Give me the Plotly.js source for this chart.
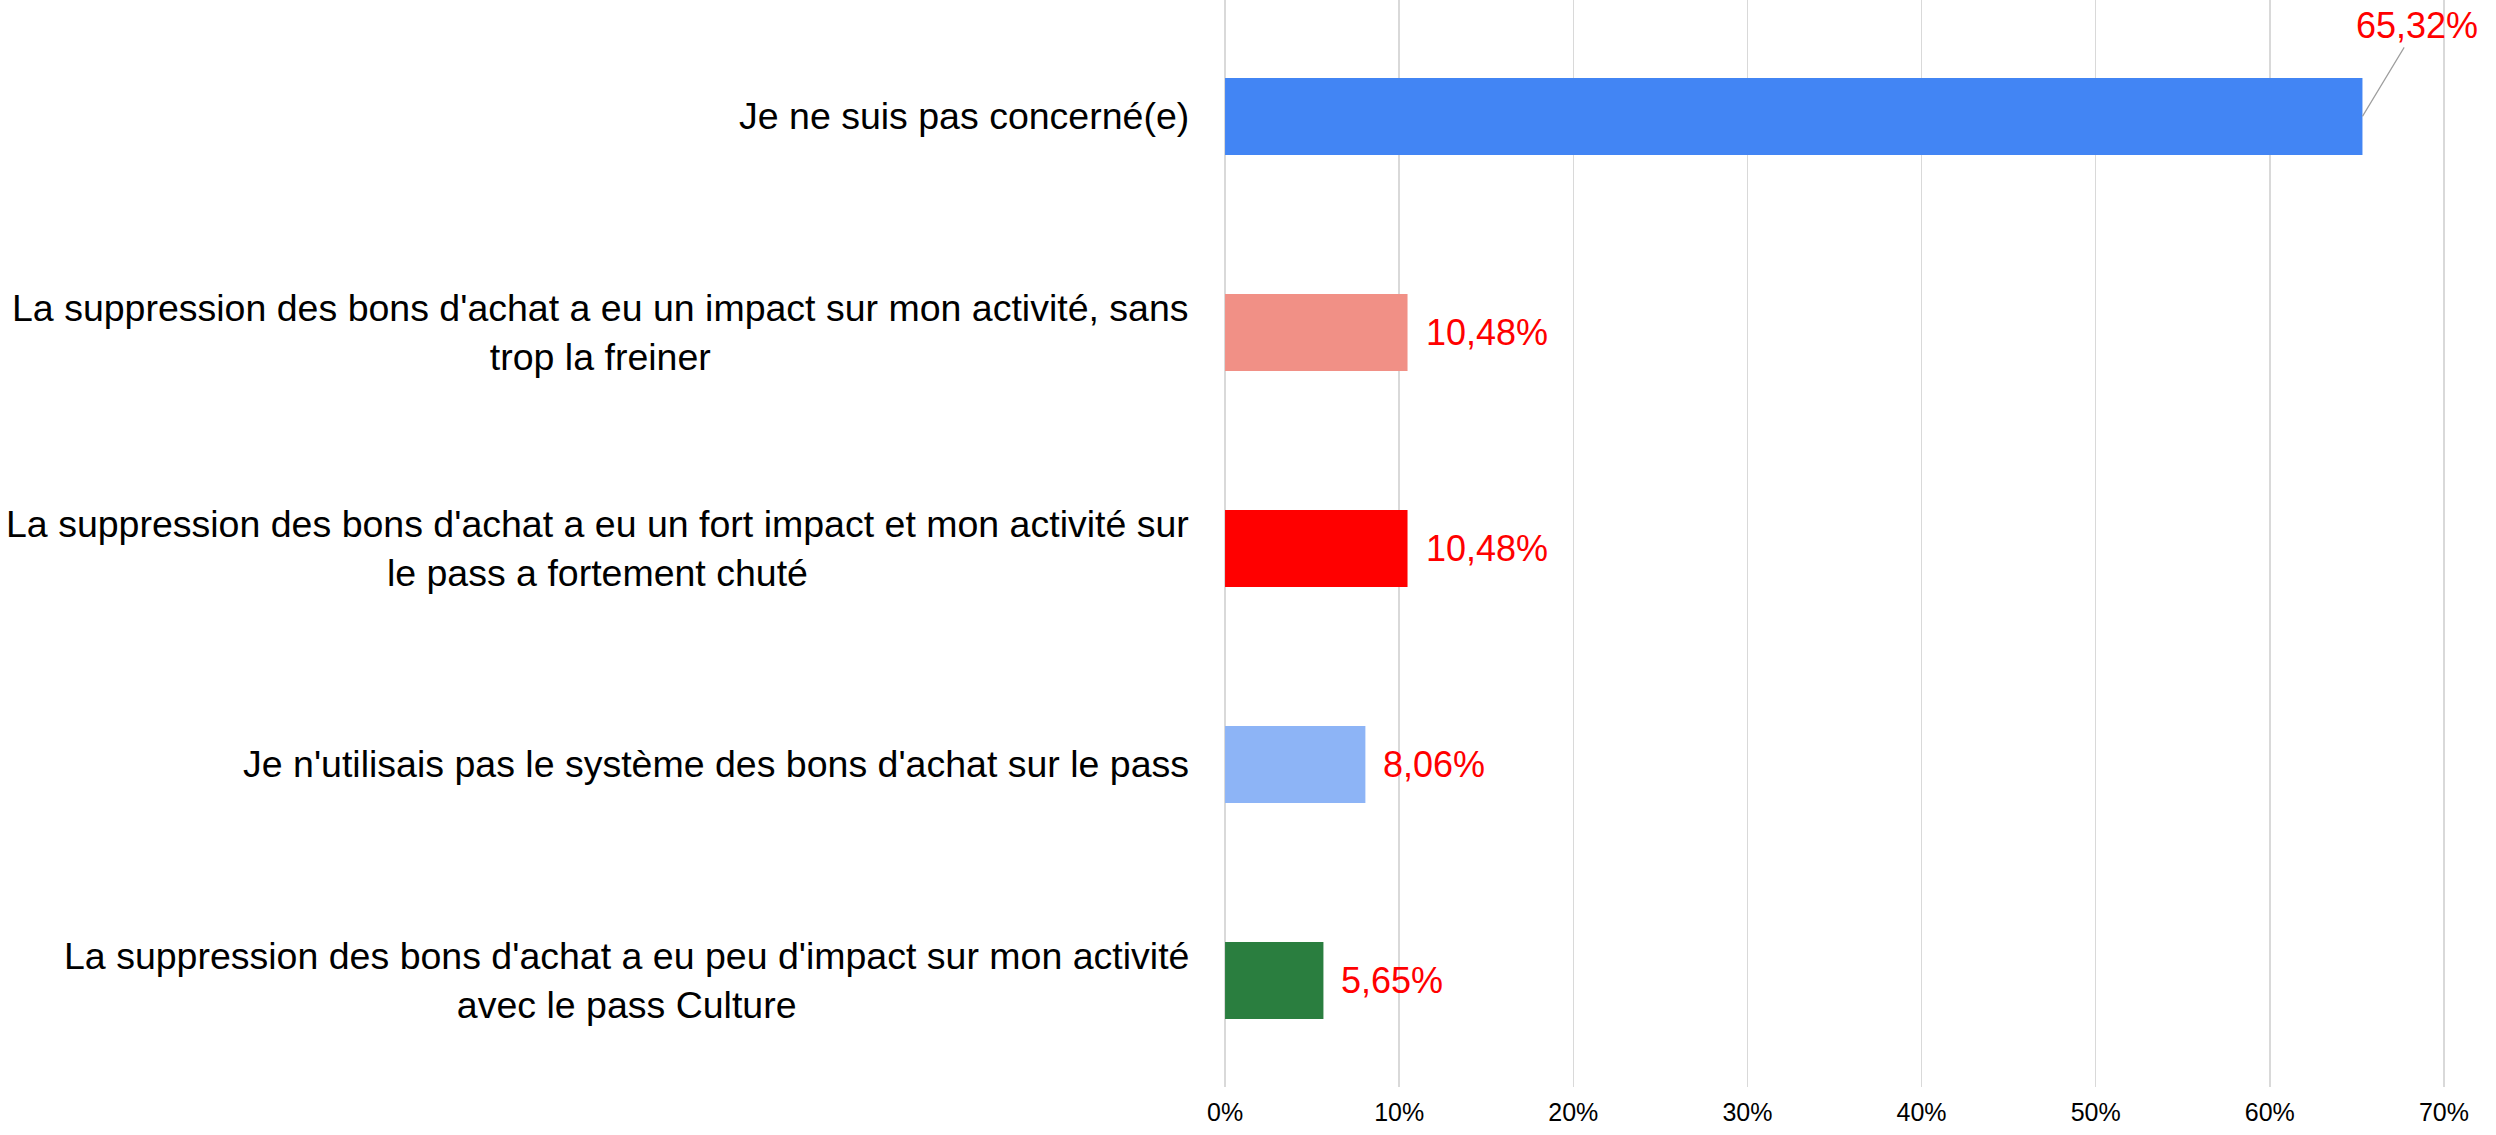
<!DOCTYPE html>
<html>
<head>
<meta charset="utf-8">
<script src="https://cdn.plot.ly/plotly-3.0.1.min.js"></script>
<style>html,body{margin:0;padding:0;background:#fff;}#chart{width:2496px;height:1135px;}</style>
</head>
<body>
<div id="chart"></div>
<script>
// Data
const categories = [
  "Je ne suis pas concerné(e)",
  "La suppression des bons d'achat a eu un impact sur mon activité, sans<br>trop la freiner",
  "La suppression des bons d'achat a eu un fort impact et mon activité sur<br>le pass a fortement chuté",
  "Je n'utilisais pas le système des bons d'achat sur le pass",
  "La suppression des bons d'achat a eu peu d'impact sur mon activité<br>avec le pass Culture"
];
const values = [65.32, 10.48, 10.48, 8.06, 5.65];
const valueLabels = ["65,32%", "10,48%", "10,48%", "8,06%", "5,65%"];
const barColors = ["#4285F4", "#F19086", "#FF0000", "#8DB4F6", "#2A7E3F"];
const tickVals = [0, 10, 20, 30, 40, 50, 60, 70];
const tickLabels = ["0%", "10%", "20%", "30%", "40%", "50%", "60%", "70%"];

const FONT = "Arial, 'Liberation Sans', sans-serif";
const ids = categories.map((c, i) => i);

const trace = {
  type: 'bar',
  orientation: 'h',
  x: values,
  y: ids,
  marker: {color: barColors, line: {width: 0}},
  hoverinfo: 'none'
};

const annotations = [];
categories.forEach((c, i) => {
  annotations.push({
    xref: 'paper', yref: 'y', x: 0, y: ids[i],
    xanchor: 'right', yanchor: 'middle', align: 'center',
    xshift: -33,
    text: c, showarrow: false,
    font: {family: FONT, size: 37.5, color: '#000'}
  });
});
const maxIdx = values.indexOf(Math.max(...values));
values.forEach((v, i) => {
  if (i === maxIdx) {
    annotations.push({
      xref: 'x', yref: 'y', x: v, y: ids[i],
      text: valueLabels[i], showarrow: true, arrowhead: 0,
      arrowcolor: '#9e9e9e', arrowwidth: 1.2, standoff: 0,
      ax: 55, ay: -91,
      font: {family: FONT, size: 36, color: '#FF0000'}
    });
  } else {
    annotations.push({
      xref: 'x', yref: 'y', x: v, y: ids[i],
      xanchor: 'left', yanchor: 'middle', xshift: 16,
      text: valueLabels[i], showarrow: false,
      font: {family: FONT, size: 36, color: '#FF0000'}
    });
  }
});

const layout = {
  width: 2496, height: 1135,
  margin: {l: 1224, r: 51, t: 0, b: 48, pad: 0},
  paper_bgcolor: '#fff', plot_bgcolor: '#fff',
  showlegend: false,
  bargap: 0.644,
  xaxis: {
    range: [-0.06, 70.06],
    tickvals: tickVals, ticktext: tickLabels,
    showgrid: true, gridcolor: '#d9d9d9', gridwidth: 1.5,
    zeroline: true, zerolinecolor: '#d9d9d9', zerolinewidth: 1.5,
    showline: false, ticks: '',
    ticklabelstandoff: 8,
    tickfont: {family: FONT, size: 25, color: '#000'},
    fixedrange: true
  },
  yaxis: {
    type: 'linear',
    range: [4.493, -0.539],
    showticklabels: false, showgrid: false, zeroline: false, showline: false, ticks: '',
    fixedrange: true
  },
  annotations: annotations
};

Plotly.newPlot('chart', [trace], layout, {displayModeBar: false, staticPlot: true});
</script>
</body>
</html>
